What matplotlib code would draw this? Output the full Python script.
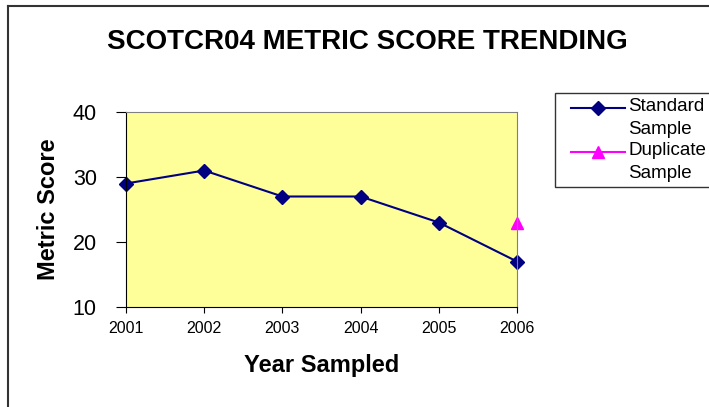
import matplotlib
matplotlib.use("Agg")
import matplotlib.pyplot as plt
from matplotlib.lines import Line2D
from matplotlib.patches import Rectangle

plt.rcParams['font.family'] = ['Liberation Sans', 'DejaVu Sans']

years = [2001, 2002, 2003, 2004, 2005, 2006]
standard = [29, 31, 27, 27, 23, 17]
dup_years = [2006]
duplicate = [23]
y_ticks = [10, 20, 30, 40]
legend_labels = ['Standard\nSample', 'Duplicate\nSample']

W, H = 709, 407
fig = plt.figure(figsize=(W / 100, H / 100), dpi=100)

def fx(px):
    return px / W

def fy(py):
    return 1 - py / H

# outer chart border (left + top visible, rest cropped)
fig.add_artist(Line2D([fx(8), fx(8)], [0, fy(6)], color='#333333', lw=1.5))
fig.add_artist(Line2D([fx(8), 1], [fy(6), fy(6)], color='#333333', lw=1.5))

ax = fig.add_axes([fx(126), fy(307), (517 - 126) / W, (307 - 112) / H])
ax.set_facecolor('#FFFF99')
ax.plot(years, standard, color='#000080', marker='D', markersize=7, lw=1.5,
        clip_on=False)
ax.plot(dup_years, duplicate, color='#FF00FF', marker='^', markersize=9, lw=1.5,
        linestyle='none', clip_on=False)

ax.set_xlim(2001, 2006)
ax.set_ylim(10, 40)
ax.set_xticks(years)
ax.set_yticks(y_ticks)
ax.tick_params(axis='x', direction='out', length=4, labelsize=11.5, pad=6)
ax.tick_params(axis='y', direction='out', length=7, labelsize=15.5, pad=14)
for s in ['top', 'right']:
    ax.spines[s].set_color('#808080')
for s in ['left', 'bottom']:
    ax.spines[s].set_color('black')

ax.set_xlabel('Year Sampled', fontsize=17, fontweight='bold', labelpad=13)
ax.set_ylabel('Metric Score', fontsize=17, fontweight='bold', labelpad=9)

fig.text(fx(367), fy(42), 'SCOTCR04 METRIC SCORE TRENDING', ha='center',
         va='center', fontsize=20, fontweight='bold')

# legend, Excel style: handle aligned with first text line
fig.add_artist(Rectangle((fx(555), fy(187)), fx(170), (187 - 93) / H,
                         transform=fig.transFigure, facecolor='white',
                         edgecolor='#333333', lw=1.0))
styles = [('#000080', 'D', 7, 'solid'), ('#FF00FF', '^', 9, 'solid')]
rows = [108, 152]
for (c, m, ms, ls), row, lab in zip(styles, rows, legend_labels):
    fig.add_artist(Line2D([fx(571), fx(625)], [fy(row), fy(row)], color=c,
                          lw=1.5, linestyle=ls))
    fig.add_artist(Line2D([fx(598)], [fy(row)], color=c, marker=m,
                          markersize=ms, linestyle='none'))
    fig.text(fx(628), fy(row - 10), lab, ha='left', va='top', fontsize=13.5,
             linespacing=1.45)

fig.savefig('out.png', dpi=100)
